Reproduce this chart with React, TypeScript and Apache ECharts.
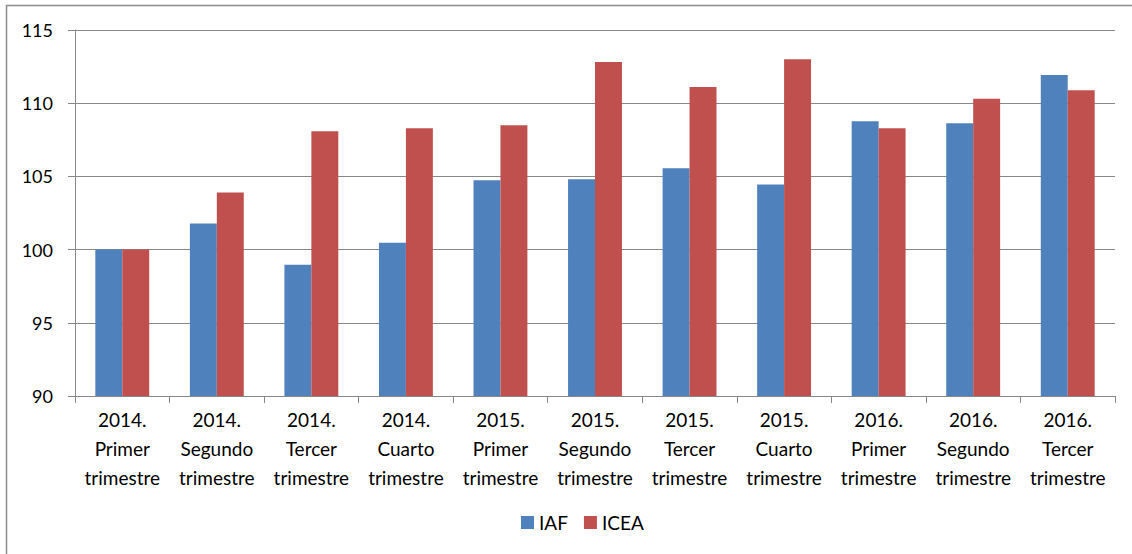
import React, { useEffect, useRef } from "react";
import * as echarts from "echarts";

const categories = [
  "2014.\nPrimer\ntrimestre",
  "2014.\nSegundo\ntrimestre",
  "2014.\nTercer\ntrimestre",
  "2014.\nCuarto\ntrimestre",
  "2015.\nPrimer\ntrimestre",
  "2015.\nSegundo\ntrimestre",
  "2015.\nTercer\ntrimestre",
  "2015.\nCuarto\ntrimestre",
  "2016.\nPrimer\ntrimestre",
  "2016.\nSegundo\ntrimestre",
  "2016.\nTercer\ntrimestre",
];
const iaf = [100, 101.78, 98.97, 100.47, 104.73, 104.8, 105.55, 104.45, 108.77, 108.63, 111.92];
const icea = [100, 103.9, 108.08, 108.29, 108.5, 112.81, 111.1, 113.0, 108.29, 110.3, 110.88];

export default function App() {
  const ref = useRef<HTMLDivElement>(null);
  useEffect(() => {
    document.body.style.margin = "0";
    const chart = echarts.init(ref.current!, null, { renderer: "svg" });
    const font = "Lato, 'Open Sans', sans-serif";
    chart.setOption({
      animation: false,
      backgroundColor: "#ffffff",
      textStyle: { fontFamily: font },
      graphic: [
        {
          type: "rect",
          shape: { x: 6.5, y: 5.5, width: 1200, height: 600 },
          style: { fill: "none", stroke: "#8c8c8c", lineWidth: 1.5 },
        },
      ],
      grid: { left: 75, right: 17, top: 30, bottom: 158, containLabel: false },
      legend: {
        data: ["IAF", "ICEA"],
        bottom: 17,
        left: 516,
        itemWidth: 13,
        itemHeight: 13,
        itemGap: 16,
        icon: "rect",
        textStyle: { fontSize: 19, color: "#000", fontFamily: font },
      },
      xAxis: {
        type: "category",
        data: categories,
        axisLine: { lineStyle: { color: "#888", width: 1 } },
        axisTick: { show: true, length: 7, lineStyle: { color: "#888" } },
        axisLabel: {
          color: "#000",
          fontSize: 19,
          lineHeight: 29,
          margin: 9,
          interval: 0,
          fontFamily: font,
        },
      },
      yAxis: {
        type: "value",
        min: 90,
        max: 115,
        interval: 5,
        axisLine: { show: true, lineStyle: { color: "#888" } },
        axisTick: { show: true, length: 7, lineStyle: { color: "#888" } },
        splitLine: { lineStyle: { color: "#888", width: 1 } },
        axisLabel: { color: "#000", fontSize: 18, margin: 22, fontFamily: font },
      },
      series: [
        {
          name: "IAF",
          type: "bar",
          data: iaf,
          itemStyle: { color: "#4f81bd" },
          barGap: "0%",
          barCategoryGap: "43%",
        },
        {
          name: "ICEA",
          type: "bar",
          data: icea,
          itemStyle: { color: "#c0504d" },
        },
      ],
    });
    return () => chart.dispose();
  }, []);
  return <div ref={ref} style={{ width: 1132, height: 554 }} />;
}
